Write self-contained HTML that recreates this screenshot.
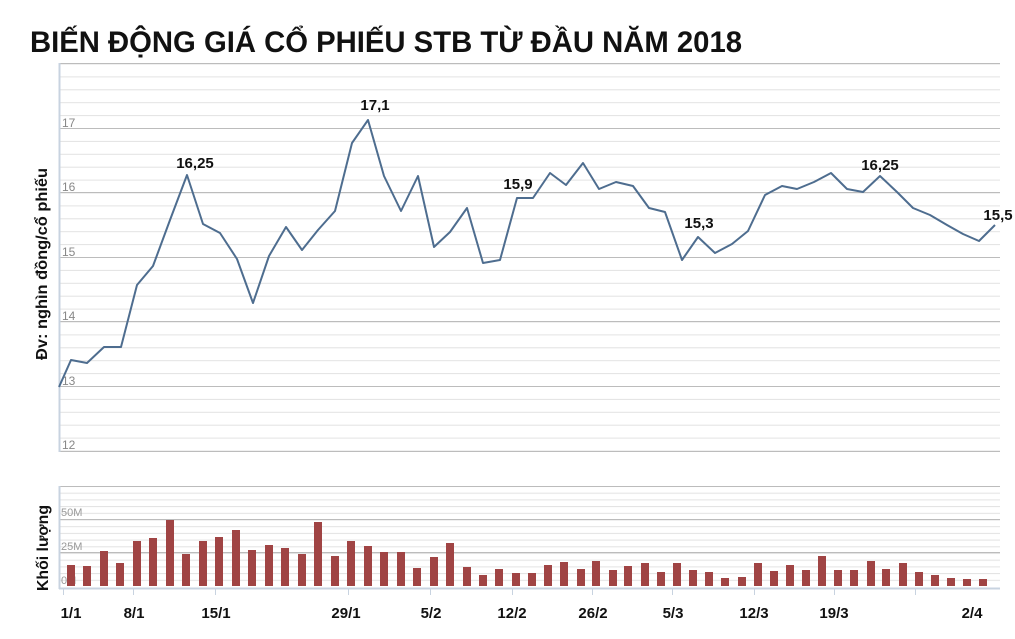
<!DOCTYPE html>
<html><head><meta charset="utf-8"><style>
html,body{margin:0;padding:0;background:#fff;}
svg{display:block;font-family:"Liberation Sans",sans-serif;}
</style></head><body>
<svg width="1015" height="639" viewBox="0 0 1015 639" xmlns="http://www.w3.org/2000/svg">
<defs>
<pattern id="pg" x="0" y="63.5" width="1015" height="12.9" patternUnits="userSpaceOnUse"><rect x="0" y="0" width="1015" height="1" fill="#e2e2e2"/></pattern>
<pattern id="vg" x="0" y="486" width="1015" height="6.7" patternUnits="userSpaceOnUse"><rect x="0" y="0" width="1015" height="1" fill="#e2e2e2"/></pattern>
</defs>
<text x="30" y="52" font-size="30" font-weight="bold" fill="#111" textLength="712" lengthAdjust="spacingAndGlyphs">BIẾN ĐỘNG GIÁ CỔ PHIẾU STB TỪ ĐẦU NĂM 2018</text>

<rect x="60" y="63" width="940" height="388" fill="url(#pg)"/>
<g stroke="#bcbcbc" stroke-width="1">
<line x1="59" y1="63.5" x2="1000" y2="63.5"/>
<line x1="59" y1="128.5" x2="1000" y2="128.5"/>
<line x1="59" y1="192.5" x2="1000" y2="192.5"/>
<line x1="59" y1="257.5" x2="1000" y2="257.5"/>
<line x1="59" y1="321.5" x2="1000" y2="321.5"/>
<line x1="59" y1="386.5" x2="1000" y2="386.5"/>
<line x1="59" y1="451.5" x2="1000" y2="451.5"/>
</g>
<line x1="59.5" y1="63" x2="59.5" y2="452" stroke="#c8d3e0" stroke-width="2"/>
<g font-size="12" fill="#888">
<text x="62" y="127">17</text><text x="62" y="191">16</text><text x="62" y="256">15</text><text x="62" y="320">14</text><text x="62" y="385">13</text><text x="62" y="449">12</text>
</g>
<text transform="translate(47,264) rotate(-90)" text-anchor="middle" font-size="16" font-weight="bold" fill="#111" textLength="192" lengthAdjust="spacingAndGlyphs">Đv: nghìn đồng/cổ phiếu</text>
<polyline fill="none" stroke="#4e6d8f" stroke-width="2" stroke-linejoin="round" points="59,387 71,360 87,363 104,347 121,347 137,285 153,266 170,220 187,175 203,224 220,233 237,259 253,303 269,256 286,227 302,250 318,230 335,211 352,143 368,120 384,176 401,211 418,176 434,247 450,232 467,208 483,263 500,260 517,198 533,198 550,173 566,185 583,163 599,189 616,182 633,186 649,208 665,212 682,260 698,237 715,253 732,244 748,231 765,195 782,186 797,189 814,182 831,173 847,189 863,192 880,176 897,192 913,208 930,215 947,225 963,234 979,241 995,225"/>
<g font-size="15" font-weight="bold" fill="#111" text-anchor="middle">
<text x="195" y="168">16,25</text><text x="375" y="110">17,1</text><text x="518" y="189">15,9</text><text x="699" y="228">15,3</text><text x="880" y="170">16,25</text><text x="998" y="220">15,5</text>
</g>

<rect x="60" y="486" width="940" height="100" fill="url(#vg)"/>
<g stroke="#bcbcbc">
<line x1="59" y1="486.5" x2="1000" y2="486.5"/>
<line x1="59" y1="519.5" x2="1000" y2="519.5"/>
<line x1="59" y1="552.5" x2="1000" y2="552.5"/>
</g>
<line x1="59" y1="588.5" x2="1000" y2="588.5" stroke="#c8d3e0" stroke-width="2"/>
<line x1="59.5" y1="486" x2="59.5" y2="589" stroke="#c8d3e0" stroke-width="2"/>
<g font-size="11" fill="#999">
<text x="61" y="516">50M</text><text x="61" y="550">25M</text><text x="61" y="584">0M</text>
</g>
<text transform="translate(48,548) rotate(-90)" text-anchor="middle" font-size="16" font-weight="bold" fill="#111" textLength="86" lengthAdjust="spacingAndGlyphs">Khối lượng</text>
<g fill="#a04444">
<rect x="67" y="565" width="8" height="21"/><rect x="83" y="566" width="8" height="20"/><rect x="100" y="551" width="8" height="35"/><rect x="116" y="563" width="8" height="23"/><rect x="133" y="541" width="8" height="45"/><rect x="149" y="538" width="8" height="48"/><rect x="166" y="520" width="8" height="66"/><rect x="182" y="554" width="8" height="32"/><rect x="199" y="541" width="8" height="45"/><rect x="215" y="537" width="8" height="49"/><rect x="232" y="530" width="8" height="56"/><rect x="248" y="550" width="8" height="36"/><rect x="265" y="545" width="8" height="41"/><rect x="281" y="548" width="8" height="38"/><rect x="298" y="554" width="8" height="32"/><rect x="314" y="522" width="8" height="64"/><rect x="331" y="556" width="8" height="30"/><rect x="347" y="541" width="8" height="45"/><rect x="364" y="546" width="8" height="40"/><rect x="380" y="552" width="8" height="34"/><rect x="397" y="552" width="8" height="34"/><rect x="413" y="568" width="8" height="18"/><rect x="430" y="557" width="8" height="29"/><rect x="446" y="543" width="8" height="43"/><rect x="463" y="567" width="8" height="19"/>
<rect x="479" y="575" width="8" height="11"/><rect x="495" y="569" width="8" height="17"/><rect x="512" y="573" width="8" height="13"/><rect x="528" y="573" width="8" height="13"/><rect x="544" y="565" width="8" height="21"/><rect x="560" y="562" width="8" height="24"/><rect x="577" y="569" width="8" height="17"/><rect x="592" y="561" width="8" height="25"/><rect x="609" y="570" width="8" height="16"/><rect x="624" y="566" width="8" height="20"/><rect x="641" y="563" width="8" height="23"/><rect x="657" y="572" width="8" height="14"/><rect x="673" y="563" width="8" height="23"/><rect x="689" y="570" width="8" height="16"/><rect x="705" y="572" width="8" height="14"/><rect x="721" y="578" width="8" height="8"/><rect x="738" y="577" width="8" height="9"/><rect x="754" y="563" width="8" height="23"/><rect x="770" y="571" width="8" height="15"/><rect x="786" y="565" width="8" height="21"/><rect x="802" y="570" width="8" height="16"/><rect x="818" y="556" width="8" height="30"/><rect x="834" y="570" width="8" height="16"/><rect x="850" y="570" width="8" height="16"/><rect x="867" y="561" width="8" height="25"/><rect x="882" y="569" width="8" height="17"/><rect x="899" y="563" width="8" height="23"/><rect x="915" y="572" width="8" height="14"/><rect x="931" y="575" width="8" height="11"/><rect x="947" y="578" width="8" height="8"/><rect x="963" y="579" width="8" height="7"/><rect x="979" y="579" width="8" height="7"/>
</g>
<g stroke="#c8d3e0" stroke-width="1">
<line x1="63.5" y1="589" x2="63.5" y2="595"/><line x1="133.5" y1="589" x2="133.5" y2="595"/><line x1="215.5" y1="589" x2="215.5" y2="595"/><line x1="348.5" y1="589" x2="348.5" y2="595"/><line x1="430.5" y1="589" x2="430.5" y2="595"/><line x1="512.5" y1="589" x2="512.5" y2="595"/><line x1="592.5" y1="589" x2="592.5" y2="595"/><line x1="672.5" y1="589" x2="672.5" y2="595"/><line x1="754.5" y1="589" x2="754.5" y2="595"/><line x1="834.5" y1="589" x2="834.5" y2="595"/><line x1="915.5" y1="589" x2="915.5" y2="595"/>
</g>
<g font-size="15" font-weight="bold" fill="#111" text-anchor="middle">
<text x="71" y="618">1/1</text><text x="134" y="618">8/1</text><text x="216" y="618">15/1</text><text x="346" y="618">29/1</text><text x="431" y="618">5/2</text><text x="512" y="618">12/2</text><text x="593" y="618">26/2</text><text x="673" y="618">5/3</text><text x="754" y="618">12/3</text><text x="834" y="618">19/3</text><text x="972" y="618">2/4</text>
</g>
</svg>
</body></html>
